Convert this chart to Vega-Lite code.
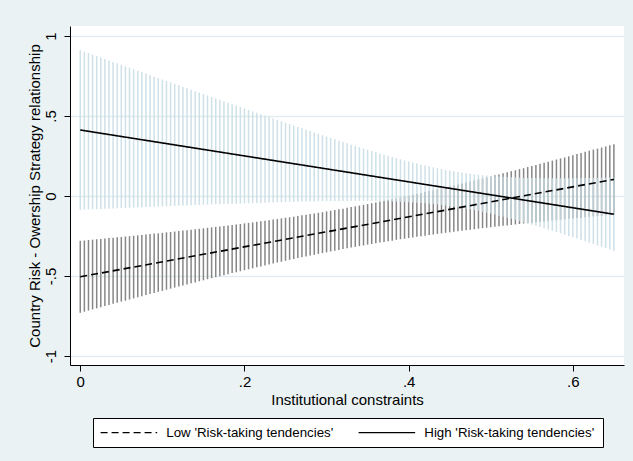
{
  "$schema": "https://vega.github.io/schema/vega-lite/v6.json",
  "autosize": {"type": "none"},
  "padding": {"left": 70, "top": 26, "right": 9, "bottom": 96},
  "width": 554,
  "height": 339,
  "datasets": {
    "ci": [
      {"x":0,"hlo":-0.087,"hhi":0.912,"llo":-0.730,"lhi":-0.280},
      {"x":0.005,"hlo":-0.085,"hhi":0.902,"llo":-0.723,"lhi":-0.278},
      {"x":0.01,"hlo":-0.084,"hhi":0.893,"llo":-0.716,"lhi":-0.275},
      {"x":0.015,"hlo":-0.083,"hhi":0.884,"llo":-0.709,"lhi":-0.273},
      {"x":0.02,"hlo":-0.082,"hhi":0.875,"llo":-0.702,"lhi":-0.270},
      {"x":0.025,"hlo":-0.081,"hhi":0.866,"llo":-0.695,"lhi":-0.268},
      {"x":0.03,"hlo":-0.080,"hhi":0.856,"llo":-0.688,"lhi":-0.266},
      {"x":0.035,"hlo":-0.079,"hhi":0.847,"llo":-0.681,"lhi":-0.263},
      {"x":0.04,"hlo":-0.078,"hhi":0.838,"llo":-0.674,"lhi":-0.261},
      {"x":0.045,"hlo":-0.077,"hhi":0.829,"llo":-0.667,"lhi":-0.258},
      {"x":0.05,"hlo":-0.076,"hhi":0.820,"llo":-0.660,"lhi":-0.256},
      {"x":0.055,"hlo":-0.075,"hhi":0.810,"llo":-0.654,"lhi":-0.253},
      {"x":0.06,"hlo":-0.074,"hhi":0.801,"llo":-0.647,"lhi":-0.251},
      {"x":0.065,"hlo":-0.072,"hhi":0.792,"llo":-0.640,"lhi":-0.248},
      {"x":0.07,"hlo":-0.071,"hhi":0.783,"llo":-0.633,"lhi":-0.246},
      {"x":0.075,"hlo":-0.070,"hhi":0.774,"llo":-0.626,"lhi":-0.243},
      {"x":0.08,"hlo":-0.069,"hhi":0.765,"llo":-0.619,"lhi":-0.241},
      {"x":0.085,"hlo":-0.068,"hhi":0.755,"llo":-0.613,"lhi":-0.238},
      {"x":0.09,"hlo":-0.067,"hhi":0.746,"llo":-0.606,"lhi":-0.235},
      {"x":0.095,"hlo":-0.066,"hhi":0.737,"llo":-0.599,"lhi":-0.233},
      {"x":0.1,"hlo":-0.065,"hhi":0.728,"llo":-0.593,"lhi":-0.230},
      {"x":0.105,"hlo":-0.064,"hhi":0.719,"llo":-0.586,"lhi":-0.227},
      {"x":0.11,"hlo":-0.063,"hhi":0.710,"llo":-0.579,"lhi":-0.225},
      {"x":0.115,"hlo":-0.062,"hhi":0.701,"llo":-0.572,"lhi":-0.222},
      {"x":0.12,"hlo":-0.061,"hhi":0.692,"llo":-0.566,"lhi":-0.219},
      {"x":0.125,"hlo":-0.060,"hhi":0.682,"llo":-0.559,"lhi":-0.216},
      {"x":0.13,"hlo":-0.059,"hhi":0.673,"llo":-0.553,"lhi":-0.214},
      {"x":0.135,"hlo":-0.058,"hhi":0.664,"llo":-0.546,"lhi":-0.211},
      {"x":0.14,"hlo":-0.057,"hhi":0.655,"llo":-0.540,"lhi":-0.208},
      {"x":0.145,"hlo":-0.056,"hhi":0.646,"llo":-0.533,"lhi":-0.205},
      {"x":0.15,"hlo":-0.055,"hhi":0.637,"llo":-0.527,"lhi":-0.202},
      {"x":0.155,"hlo":-0.054,"hhi":0.628,"llo":-0.520,"lhi":-0.199},
      {"x":0.16,"hlo":-0.053,"hhi":0.619,"llo":-0.514,"lhi":-0.196},
      {"x":0.165,"hlo":-0.052,"hhi":0.610,"llo":-0.507,"lhi":-0.193},
      {"x":0.17,"hlo":-0.051,"hhi":0.601,"llo":-0.501,"lhi":-0.190},
      {"x":0.175,"hlo":-0.050,"hhi":0.592,"llo":-0.495,"lhi":-0.187},
      {"x":0.18,"hlo":-0.049,"hhi":0.583,"llo":-0.489,"lhi":-0.184},
      {"x":0.185,"hlo":-0.048,"hhi":0.574,"llo":-0.482,"lhi":-0.181},
      {"x":0.19,"hlo":-0.048,"hhi":0.565,"llo":-0.476,"lhi":-0.178},
      {"x":0.195,"hlo":-0.047,"hhi":0.556,"llo":-0.470,"lhi":-0.175},
      {"x":0.2,"hlo":-0.046,"hhi":0.547,"llo":-0.464,"lhi":-0.171},
      {"x":0.205,"hlo":-0.045,"hhi":0.538,"llo":-0.458,"lhi":-0.168},
      {"x":0.21,"hlo":-0.044,"hhi":0.529,"llo":-0.452,"lhi":-0.165},
      {"x":0.215,"hlo":-0.043,"hhi":0.520,"llo":-0.446,"lhi":-0.161},
      {"x":0.22,"hlo":-0.043,"hhi":0.511,"llo":-0.440,"lhi":-0.158},
      {"x":0.225,"hlo":-0.042,"hhi":0.502,"llo":-0.434,"lhi":-0.154},
      {"x":0.23,"hlo":-0.041,"hhi":0.493,"llo":-0.428,"lhi":-0.151},
      {"x":0.235,"hlo":-0.040,"hhi":0.484,"llo":-0.422,"lhi":-0.147},
      {"x":0.24,"hlo":-0.039,"hhi":0.476,"llo":-0.416,"lhi":-0.144},
      {"x":0.245,"hlo":-0.039,"hhi":0.467,"llo":-0.411,"lhi":-0.140},
      {"x":0.25,"hlo":-0.038,"hhi":0.458,"llo":-0.405,"lhi":-0.136},
      {"x":0.255,"hlo":-0.037,"hhi":0.449,"llo":-0.399,"lhi":-0.133},
      {"x":0.26,"hlo":-0.037,"hhi":0.440,"llo":-0.394,"lhi":-0.129},
      {"x":0.265,"hlo":-0.036,"hhi":0.432,"llo":-0.388,"lhi":-0.125},
      {"x":0.27,"hlo":-0.035,"hhi":0.423,"llo":-0.383,"lhi":-0.121},
      {"x":0.275,"hlo":-0.035,"hhi":0.414,"llo":-0.378,"lhi":-0.117},
      {"x":0.28,"hlo":-0.034,"hhi":0.406,"llo":-0.372,"lhi":-0.113},
      {"x":0.285,"hlo":-0.034,"hhi":0.397,"llo":-0.367,"lhi":-0.109},
      {"x":0.29,"hlo":-0.033,"hhi":0.389,"llo":-0.362,"lhi":-0.105},
      {"x":0.295,"hlo":-0.033,"hhi":0.380,"llo":-0.357,"lhi":-0.101},
      {"x":0.3,"hlo":-0.032,"hhi":0.371,"llo":-0.352,"lhi":-0.096},
      {"x":0.305,"hlo":-0.032,"hhi":0.363,"llo":-0.347,"lhi":-0.092},
      {"x":0.31,"hlo":-0.032,"hhi":0.355,"llo":-0.342,"lhi":-0.088},
      {"x":0.315,"hlo":-0.031,"hhi":0.346,"llo":-0.337,"lhi":-0.083},
      {"x":0.32,"hlo":-0.031,"hhi":0.338,"llo":-0.332,"lhi":-0.079},
      {"x":0.325,"hlo":-0.031,"hhi":0.330,"llo":-0.327,"lhi":-0.074},
      {"x":0.33,"hlo":-0.031,"hhi":0.321,"llo":-0.322,"lhi":-0.069},
      {"x":0.335,"hlo":-0.031,"hhi":0.313,"llo":-0.318,"lhi":-0.065},
      {"x":0.34,"hlo":-0.031,"hhi":0.305,"llo":-0.313,"lhi":-0.060},
      {"x":0.345,"hlo":-0.031,"hhi":0.297,"llo":-0.309,"lhi":-0.055},
      {"x":0.35,"hlo":-0.031,"hhi":0.289,"llo":-0.304,"lhi":-0.050},
      {"x":0.355,"hlo":-0.031,"hhi":0.281,"llo":-0.300,"lhi":-0.045},
      {"x":0.36,"hlo":-0.032,"hhi":0.274,"llo":-0.295,"lhi":-0.040},
      {"x":0.365,"hlo":-0.032,"hhi":0.266,"llo":-0.291,"lhi":-0.035},
      {"x":0.37,"hlo":-0.033,"hhi":0.258,"llo":-0.287,"lhi":-0.030},
      {"x":0.375,"hlo":-0.033,"hhi":0.251,"llo":-0.283,"lhi":-0.025},
      {"x":0.38,"hlo":-0.034,"hhi":0.244,"llo":-0.279,"lhi":-0.019},
      {"x":0.385,"hlo":-0.035,"hhi":0.236,"llo":-0.274,"lhi":-0.014},
      {"x":0.39,"hlo":-0.036,"hhi":0.229,"llo":-0.270,"lhi":-0.009},
      {"x":0.395,"hlo":-0.037,"hhi":0.222,"llo":-0.267,"lhi":-0.003},
      {"x":0.4,"hlo":-0.039,"hhi":0.216,"llo":-0.263,"lhi":0.002},
      {"x":0.405,"hlo":-0.040,"hhi":0.209,"llo":-0.259,"lhi":0.008},
      {"x":0.41,"hlo":-0.042,"hhi":0.203,"llo":-0.255,"lhi":0.013},
      {"x":0.415,"hlo":-0.044,"hhi":0.196,"llo":-0.251,"lhi":0.019},
      {"x":0.42,"hlo":-0.046,"hhi":0.190,"llo":-0.248,"lhi":0.025},
      {"x":0.425,"hlo":-0.048,"hhi":0.184,"llo":-0.244,"lhi":0.031},
      {"x":0.43,"hlo":-0.050,"hhi":0.179,"llo":-0.241,"lhi":0.036},
      {"x":0.435,"hlo":-0.053,"hhi":0.173,"llo":-0.237,"lhi":0.042},
      {"x":0.44,"hlo":-0.056,"hhi":0.168,"llo":-0.234,"lhi":0.048},
      {"x":0.445,"hlo":-0.059,"hhi":0.163,"llo":-0.230,"lhi":0.054},
      {"x":0.45,"hlo":-0.063,"hhi":0.159,"llo":-0.227,"lhi":0.060},
      {"x":0.455,"hlo":-0.066,"hhi":0.154,"llo":-0.223,"lhi":0.066},
      {"x":0.46,"hlo":-0.070,"hhi":0.150,"llo":-0.220,"lhi":0.072},
      {"x":0.465,"hlo":-0.074,"hhi":0.146,"llo":-0.217,"lhi":0.078},
      {"x":0.47,"hlo":-0.079,"hhi":0.142,"llo":-0.214,"lhi":0.085},
      {"x":0.475,"hlo":-0.083,"hhi":0.139,"llo":-0.211,"lhi":0.091},
      {"x":0.48,"hlo":-0.088,"hhi":0.136,"llo":-0.208,"lhi":0.097},
      {"x":0.485,"hlo":-0.093,"hhi":0.133,"llo":-0.204,"lhi":0.103},
      {"x":0.49,"hlo":-0.099,"hhi":0.130,"llo":-0.201,"lhi":0.110},
      {"x":0.495,"hlo":-0.105,"hhi":0.128,"llo":-0.198,"lhi":0.116},
      {"x":0.5,"hlo":-0.110,"hhi":0.125,"llo":-0.195,"lhi":0.122},
      {"x":0.505,"hlo":-0.116,"hhi":0.123,"llo":-0.192,"lhi":0.129},
      {"x":0.51,"hlo":-0.123,"hhi":0.122,"llo":-0.189,"lhi":0.135},
      {"x":0.515,"hlo":-0.129,"hhi":0.120,"llo":-0.186,"lhi":0.142},
      {"x":0.52,"hlo":-0.136,"hhi":0.118,"llo":-0.184,"lhi":0.148},
      {"x":0.525,"hlo":-0.142,"hhi":0.117,"llo":-0.181,"lhi":0.155},
      {"x":0.53,"hlo":-0.149,"hhi":0.116,"llo":-0.178,"lhi":0.161},
      {"x":0.535,"hlo":-0.156,"hhi":0.115,"llo":-0.175,"lhi":0.168},
      {"x":0.54,"hlo":-0.164,"hhi":0.114,"llo":-0.172,"lhi":0.174},
      {"x":0.545,"hlo":-0.171,"hhi":0.113,"llo":-0.170,"lhi":0.181},
      {"x":0.55,"hlo":-0.179,"hhi":0.113,"llo":-0.167,"lhi":0.188},
      {"x":0.555,"hlo":-0.186,"hhi":0.112,"llo":-0.164,"lhi":0.194},
      {"x":0.56,"hlo":-0.194,"hhi":0.112,"llo":-0.161,"lhi":0.201},
      {"x":0.565,"hlo":-0.202,"hhi":0.111,"llo":-0.159,"lhi":0.208},
      {"x":0.57,"hlo":-0.209,"hhi":0.111,"llo":-0.156,"lhi":0.214},
      {"x":0.575,"hlo":-0.217,"hhi":0.111,"llo":-0.154,"lhi":0.221},
      {"x":0.58,"hlo":-0.225,"hhi":0.111,"llo":-0.151,"lhi":0.228},
      {"x":0.585,"hlo":-0.233,"hhi":0.111,"llo":-0.148,"lhi":0.235},
      {"x":0.59,"hlo":-0.242,"hhi":0.111,"llo":-0.146,"lhi":0.241},
      {"x":0.595,"hlo":-0.250,"hhi":0.111,"llo":-0.143,"lhi":0.248},
      {"x":0.6,"hlo":-0.258,"hhi":0.111,"llo":-0.141,"lhi":0.255},
      {"x":0.605,"hlo":-0.266,"hhi":0.111,"llo":-0.138,"lhi":0.262},
      {"x":0.61,"hlo":-0.275,"hhi":0.112,"llo":-0.136,"lhi":0.269},
      {"x":0.615,"hlo":-0.283,"hhi":0.112,"llo":-0.133,"lhi":0.276},
      {"x":0.62,"hlo":-0.292,"hhi":0.112,"llo":-0.131,"lhi":0.283},
      {"x":0.625,"hlo":-0.300,"hhi":0.113,"llo":-0.128,"lhi":0.290},
      {"x":0.63,"hlo":-0.309,"hhi":0.113,"llo":-0.126,"lhi":0.296},
      {"x":0.635,"hlo":-0.317,"hhi":0.114,"llo":-0.124,"lhi":0.303},
      {"x":0.64,"hlo":-0.326,"hhi":0.114,"llo":-0.121,"lhi":0.310},
      {"x":0.645,"hlo":-0.335,"hhi":0.115,"llo":-0.119,"lhi":0.317},
      {"x":0.65,"hlo":-0.343,"hhi":0.115,"llo":-0.116,"lhi":0.324}
    ],
    "lines": [
      {"x":0,"s":"Low 'Risk-taking tendencies'","y":-0.505},
      {"x":0.65,"s":"Low 'Risk-taking tendencies'","y":0.104},
      {"x":0,"s":"High 'Risk-taking tendencies'","y":0.4125},
      {"x":0.65,"s":"High 'Risk-taking tendencies'","y":-0.114}
    ]
  },
  "layer": [
    {
      "data": {"name": "ci"},
      "mark": {"type": "rule", "color": "#878787", "strokeWidth": 1.5},
      "encoding": {
        "x": {"field": "x", "type": "quantitative",
              "scale": {"domain": [-0.0125, 0.6623], "nice": false, "zero": false},
              "axis": {"title": "Institutional constraints", "values": [0, 0.2, 0.4, 0.6],
                       "labelExpr": "datum.value == 0 ? '0' : datum.value == 0.2 ? '.2' : datum.value == 0.4 ? '.4' : '.6'",
                       "grid": false, "tickSize": 6, "labelPadding": 3, "titlePadding": 3, "labelFlush": false}},
        "y": {"field": "llo", "type": "quantitative",
              "scale": {"domain": [-1.05625, 1.0625], "nice": false, "zero": false},
              "axis": {"title": "Country Risk - Owership Strategy relationship", "values": [-1, -0.5, 0, 0.5, 1],
                       "labelExpr": "datum.value == 1 ? '1' : datum.value == 0.5 ? '.5' : datum.value == 0 ? '0' : datum.value == -0.5 ? '-.5' : '-1'",
                       "grid": true, "gridColor": "#e2ecef", "gridWidth": 1.5,
                       "labelAngle": -90, "labelAlign": "center", "labelBaseline": "bottom",
                       "tickSize": 6, "labelPadding": 6, "titlePadding": 1, "labelFlush": false}},
        "y2": {"field": "lhi"}
      }
    },
    {
      "data": {"name": "ci"},
      "mark": {"type": "rule", "color": "#c6dae4", "strokeWidth": 1.5, "opacity": 0.85},
      "encoding": {
        "x": {"field": "x", "type": "quantitative", "title": "Institutional constraints"},
        "y": {"field": "hlo", "type": "quantitative", "title": "Country Risk - Owership Strategy relationship"},
        "y2": {"field": "hhi"}
      }
    },
    {
      "data": {"name": "lines"},
      "mark": {"type": "line", "color": "black"},
      "encoding": {
        "x": {"field": "x", "type": "quantitative", "title": "Institutional constraints"},
        "y": {"field": "y", "type": "quantitative", "title": "Country Risk - Owership Strategy relationship"},
        "strokeDash": {"field": "s", "type": "nominal",
                       "scale": {"domain": ["Low 'Risk-taking tendencies'", "High 'Risk-taking tendencies'"], "range": [[7, 4], [1, 0]]},
                       "legend": {"orient": "none", "legendX": 23, "legendY": 392, "direction": "horizontal", "title": null,
                                  "strokeColor": "black", "fillColor": "white", "padding": 8,
                                  "symbolType": "M-2.5,0H17.5", "symbolSize": 32, "symbolStrokeColor": "black", "symbolStrokeWidth": 1.3,
                                  "labelFontSize": 13.3, "labelColor": "black", "labelOffset": 52, "columnPadding": 21, "labelLimit": 0}},
        "strokeWidth": {"value": 1.6}
      }
    }
  ],
  "config": {
    "background": "#eaf2f3",
    "font": "Liberation Sans",
    "view": {"fill": "white", "stroke": null},
    "axis": {
      "domainColor": "black", "domainWidth": 1, "tickColor": "black", "tickWidth": 1,
      "labelFontSize": 15, "labelColor": "black", "labelFont": "Liberation Sans",
      "titleFontSize": 15, "titleFontWeight": "normal", "titleColor": "black", "titleFont": "Liberation Sans"
    },
    "legend": {"labelFont": "Liberation Sans"}
  }
}
